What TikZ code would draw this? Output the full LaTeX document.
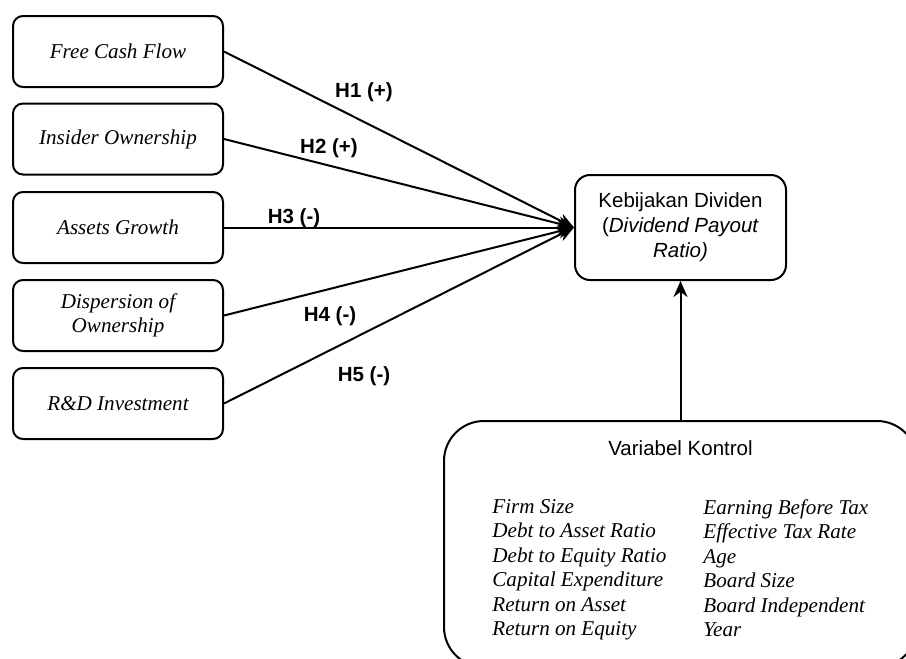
\documentclass[tikz,border=0pt]{standalone}
\usepackage{fontspec}
\setmainfont{Liberation Serif}
\setsansfont{Liberation Sans}
\usetikzlibrary{arrows.meta}

\begin{document}
\begin{tikzpicture}[x=0.5pt,y=-0.5pt,
    var/.style={draw,black,line width=1pt,rounded corners=5pt,minimum width=105pt,minimum height=35.5pt,inner sep=0pt,align=center,font=\fontsize{10.55}{12.25}\selectfont\itshape},
    hyp/.style={inner sep=0pt,font=\fontsize{10.25}{12.25}\selectfont\sffamily\bfseries},
    link/.style={black,line width=1pt,-{Stealth[length=8pt,width=7pt]}}]
    \useasboundingbox (0,0) rectangle (906,659);
    \clip (0,0) rectangle (906,659);
    \node [var] (fcf) at (118,51.5) {Free Cash Flow};
    \node [var] (io) at (118,139) {Insider Ownership};
    \node [var] (ag) at (118,227.5) {Assets Growth};
    \node [var] (dsp) at (118,315.5) {Dispersion of\\Ownership};
    \node [var] (rd) at (118,403.5) {R\&D Investment};
    \node [draw,black,line width=1pt,rounded corners=7.5pt,minimum width=105.5pt,minimum height=52.5pt,inner sep=0pt,align=center,font=\fontsize{10.25}{12.5}\selectfont\sffamily] (dpr) at (680.5,227.5) {Kebijakan Dividen\\(\textit{Dividend Payout}\\\textit{Ratio)}};
    \node [draw,black,line width=1pt,rounded corners=20pt,minimum width=236.5pt,minimum height=123pt,inner sep=0pt] (ctrl) at (680.5,544) {};
    \node [anchor=base,inner sep=0pt,font=\fontsize{10.25}{12.25}\selectfont\sffamily] (ctrlt) at (680.5,455) {Variabel Kontrol};
    \node [anchor=north west,inner sep=0pt,align=left,font=\fontsize{10.55}{12.25}\selectfont\itshape] (ctrll) at (492,499) {Firm Size\\Debt to Asset Ratio\\Debt to Equity Ratio\\Capital Expenditure\\Return on Asset\\Return on Equity};
    \node [anchor=north west,inner sep=0pt,align=left,font=\fontsize{10.55}{12.25}\selectfont\itshape] (ctrlr) at (703,499) {Earning Before Tax\\Effective Tax Rate\\Age\\Board Size\\Board Independent\\Year};
    \draw [link] (fcf.east) -- (dpr.west);
    \draw [link] (io.east) -- (dpr.west);
    \draw [link] (ag.east) -- (dpr.west);
    \draw [link] (dsp.east) -- (dpr.west);
    \draw [link] (rd.east) -- (dpr.west);
    \draw [link] (ctrl.north) -- (dpr.south);
    \node [hyp] (h1) at (364,92) {H1 (+)};
    \node [hyp] (h2) at (329,148) {H2 (+)};
    \node [hyp] (h3) at (294,218) {H3 (-)};
    \node [hyp] (h4) at (330,316) {H4 (-)};
    \node [hyp] (h5) at (364,376) {H5 (-)};
\end{tikzpicture}
\end{document}
